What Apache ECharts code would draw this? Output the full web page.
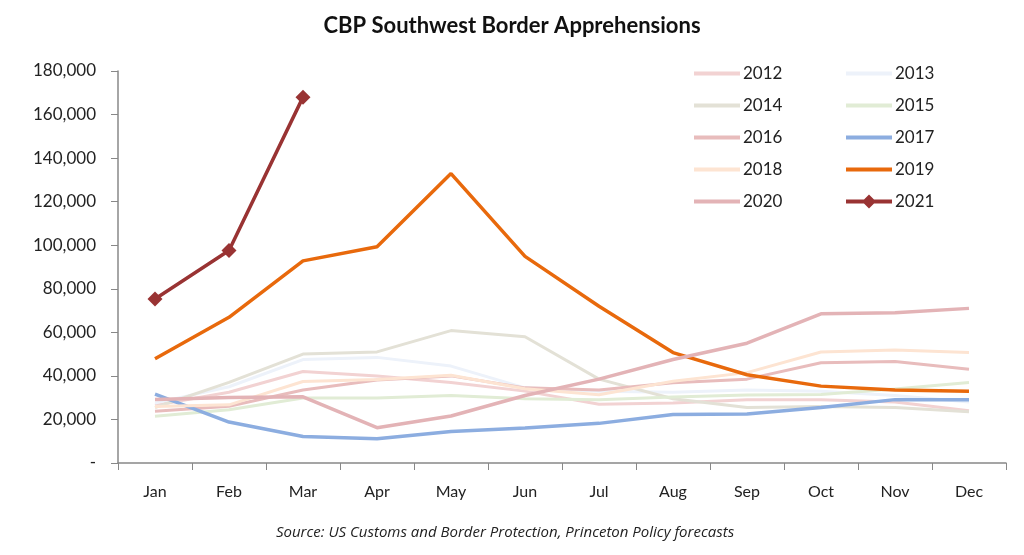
<!DOCTYPE html>
<html>
<head>
<meta charset="utf-8">
<script src="https://cdn.jsdelivr.net/npm/echarts@6/dist/echarts.min.js"></script>
<style>
html,body{margin:0;padding:0;background:#fff;}
#chart{width:1024px;height:555px;}
</style>
</head>
<body>
<div id="chart"></div>
<script>
var months = ['Jan','Feb','Mar','Apr','May','Jun','Jul','Aug','Sep','Oct','Nov','Dec'];
var y2012 = [26500, 32500, 42000, 40000, 37000, 33000, 27000, 27500, 29000, 29000, 28000, 24000];
var y2013 = [27500, 35000, 47500, 48500, 44500, 34500, 33000, 32500, 33500, 33000, 31000, 28000];
var y2014 = [25500, 37000, 50000, 51000, 60800, 58000, 38500, 29500, 25500, 26000, 25500, 23500];
var y2015 = [21500, 24500, 29800, 29800, 31000, 29500, 29000, 30300, 31200, 31500, 34000, 37000];
var y2016 = [23800, 26100, 33500, 38100, 40000, 34500, 33500, 36800, 38500, 46000, 46600, 43000];
var y2017 = [31600, 18800, 12200, 11100, 14500, 16100, 18200, 22300, 22500, 25500, 29100, 29100];
var y2018 = [26000, 26700, 37400, 38300, 40300, 34100, 31300, 37500, 41500, 51000, 51900, 50700];
var y2019 = [47900, 66900, 92800, 99300, 132900, 94900, 72000, 50700, 40500, 35300, 33500, 32900];
var y2020 = [29200, 30100, 30400, 16200, 21600, 31000, 38500, 47500, 55000, 68500, 69000, 71000];
var y2021 = [75300, 97600, 168000, null, null, null, null, null, null, null, null, null];

var seriesDefs = [
  {name:'2012', data:y2012, color:'#f2d2d2', w:3},
  {name:'2013', data:y2013, color:'#edf2fa', w:3},
  {name:'2014', data:y2014, color:'#e3e1d6', w:3},
  {name:'2015', data:y2015, color:'#e1ecd5', w:3},
  {name:'2016', data:y2016, color:'#e8bcbc', w:3},
  {name:'2017', data:y2017, color:'#8cade0', w:3.5},
  {name:'2018', data:y2018, color:'#fde4d2', w:3},
  {name:'2019', data:y2019, color:'#e8690c', w:3.5},
  {name:'2020', data:y2020, color:'#e3b3b6', w:3.5},
  {name:'2021', data:y2021, color:'#993333', w:3.5}
];

var series = seriesDefs.map(function(s){
  var is21 = s.name === '2021';
  return {
    name: s.name,
    type: 'line',
    data: s.data,
    symbol: is21 ? 'diamond' : 'none',
    symbolSize: is21 ? 15 : 0,
    showSymbol: is21,
    lineStyle: {color: s.color, width: s.w},
    itemStyle: {color: s.color},
    connectNulls: false,
    z: 2
  };
});

var barIcon = 'path://M0,0L46,0L46,4L0,4Z';
var diaIcon = 'path://M0,5L46,5L46,9L0,9Z M23,0L30,7L23,14L16,7Z';
function legendItems(names){
  return names.map(function(n){ return {name:n, icon: n === '2021' ? diaIcon : barIcon}; });
}

var legendText = {fontFamily:'Lato', fontSize:17, color:'#222', padding:[0,0,0,-2]};
var chart = echarts.init(document.getElementById('chart'));
chart.setOption({
  animation: false,
  backgroundColor: '#fff',
  title: [{
    text: 'CBP Southwest Border Apprehensions',
    left: 'center',
    top: 10,
    textStyle: {fontFamily:'Lato', fontSize:22, fontWeight:'bold', color:'#111'}
  }, {
    text: 'Source: US Customs and Border Protection, Princeton Policy forecasts',
    left: 500,
    textAlign: 'center',
    top: 520,
    textStyle: {fontFamily:'Open Sans', fontSize:15, fontStyle:'italic', fontWeight:'normal', color:'#222'}
  }],
  legend: [{
    orient: 'vertical',
    left: 689,
    top: 60,
    itemWidth: 46,
    itemHeight: 14,
    itemGap: 15,
    data: legendItems(['2012','2014','2016','2018','2020']),
    textStyle: legendText
  }, {
    orient: 'vertical',
    left: 841,
    top: 60,
    itemWidth: 46,
    itemHeight: 14,
    itemGap: 15,
    data: legendItems(['2013','2015','2017','2019','2021']),
    textStyle: legendText
  }],
  grid: {left:118, right:18, top:71, bottom:92},
  xAxis: {
    type: 'category',
    data: months,
    boundaryGap: true,
    axisLine: {lineStyle:{color:'#888', width:1.5}},
    axisTick: {show:true, length:7, lineStyle:{color:'#888'}},
    axisLabel: {fontFamily:'Lato', fontSize:16, color:'#222', margin:21}
  },
  yAxis: {
    type: 'value',
    min: 0,
    max: 180000,
    interval: 20000,
    splitLine: {show:false},
    axisLine: {show:true, lineStyle:{color:'#888', width:1.5}},
    axisTick: {show:true, inside:false, length:7, lineStyle:{color:'#888'}},
    axisLabel: {
      fontFamily:'Lato', fontSize:17, color:'#222', margin:22,
      formatter: function(v){ return v === 0 ? '-' : v.toLocaleString('en-US'); }
    }
  },
  series: series
});
</script>
</body>
</html>
